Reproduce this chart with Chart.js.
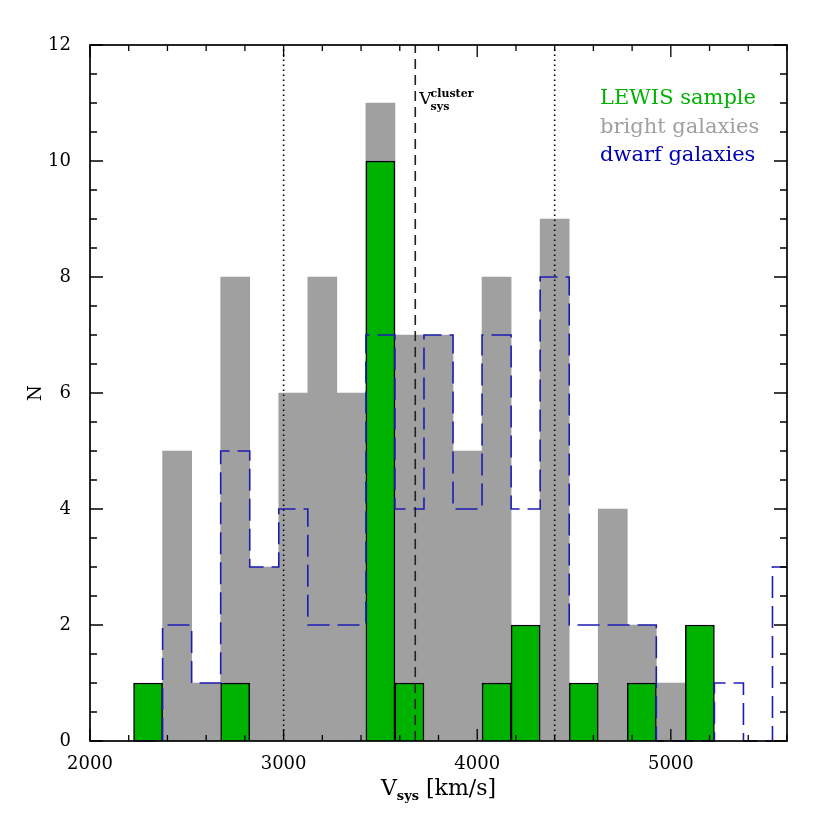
<!DOCTYPE html>
<html>
<head>
<meta charset="utf-8">
<script src="https://cdn.jsdelivr.net/npm/chart.js@4.4.0/dist/chart.umd.min.js"></script>
<style>
  html, body { margin: 0; padding: 0; background: #fff; }
  #wrap { width: 830px; height: 830px; }
</style>
</head>
<body>
<div id="wrap"><canvas id="histChart" width="830" height="830"></canvas></div>
<script>
// bin edges of the velocity histogram (km/s)
const binEdges = [2225, 2375, 2525, 2675, 2825, 2975, 3125, 3275, 3425, 3575, 3725, 3875,
                  4025, 4175, 4325, 4475, 4625, 4775, 4925, 5075, 5225, 5375, 5525, 5675];
// galaxy counts per bin
const lewisCounts  = [1, 0, 0, 1, 0, 0, 0, 0, 10, 1, 0, 0, 1, 2, 0, 1, 0, 1, 0, 2, 0, 0, 0];
const brightCounts = [0, 5, 1, 8, 3, 6, 8, 6, 11, 7, 7, 5, 8, 0, 9, 0, 4, 2, 1, 0, 0, 0, 0];
const dwarfCounts  = [0, 2, 1, 5, 3, 4, 2, 2, 7, 4, 7, 4, 7, 4, 8, 2, 2, 2, 0, 0, 1, 0, 3];
const seriesLabels = ["LEWIS sample", "bright galaxies", "dwarf galaxies"];

// reference velocities
const vCluster = 3680;
const vLimits = [3000, 4400];

// axes
const xRange = [2000, 5600];
const yRange = [0, 12];

const GREEN = "#00b200";
const GREY = "#a0a0a0";
const BLUE = "#1c1cb4";

const binCenters = binEdges.slice(0, -1).map((e, i) => (e + binEdges[i + 1]) / 2);
const toBars = counts => binCenters.map((c, i) => ({ x: c, y: counts[i] ? counts[i] : null }));
const dwarfSteps = binEdges.map((e, i) => ({ x: e, y: dwarfCounts[Math.min(i, dwarfCounts.length - 1)] }));
const vline = v => [{ x: v, y: yRange[0] }, { x: v, y: yRange[1] }];

// box, inward ticks on all sides, titles and text legend
const framePlugin = {
  id: "frame",
  afterDatasetsDraw(chart) {
    const { ctx, chartArea: a, scales: { x, y } } = chart;
    ctx.save();
    ctx.strokeStyle = "#000";
    ctx.lineWidth = 1.3;
    ctx.beginPath();
    x.ticks.forEach(t => {
      const px = x.getPixelForValue(t.value);
      const len = t.value % 1000 === 0 ? 12 : 6;
      ctx.moveTo(px, a.bottom); ctx.lineTo(px, a.bottom - len);
      ctx.moveTo(px, a.top); ctx.lineTo(px, a.top + len);
    });
    y.ticks.forEach(t => {
      const py = y.getPixelForValue(t.value);
      const len = t.value % 2 === 0 ? 13 : 7;
      ctx.moveTo(a.left, py); ctx.lineTo(a.left + len, py);
      ctx.moveTo(a.right, py); ctx.lineTo(a.right - len, py);
    });
    ctx.stroke();
    ctx.lineWidth = 1.7;
    ctx.strokeRect(a.left, a.top, a.right - a.left, a.bottom - a.top);

    ctx.fillStyle = "#000";
    // y title
    ctx.save();
    ctx.translate(36, (a.top + a.bottom) / 2);
    ctx.rotate(-Math.PI / 2);
    ctx.textAlign = "center";
    ctx.textBaseline = "middle";
    ctx.font = "18px 'DejaVu Serif'";
    ctx.fillText("N", 0, 0);
    ctx.restore();

    // x title: V_sys [km/s]
    ctx.textBaseline = "alphabetic";
    ctx.textAlign = "left";
    const big = "22px 'DejaVu Serif'", small = "bold 13px 'DejaVu Serif'";
    ctx.font = big; const wV = ctx.measureText("V").width;
    const wU = ctx.measureText(" [km/s]").width;
    ctx.font = small; const wS = ctx.measureText("sys").width;
    let tx = (a.left + a.right) / 2 - (wV + wS + wU) / 2;
    const ty = 795;
    ctx.font = big; ctx.fillText("V", tx, ty); tx += wV;
    ctx.font = small; ctx.fillText("sys", tx, ty + 5); tx += wS;
    ctx.font = big; ctx.fillText(" [km/s]", tx, ty);

    // cluster velocity label
    const cx = x.getPixelForValue(vCluster) + 4;
    ctx.font = "17px 'DejaVu Serif'";
    ctx.fillText("V", cx, 104);
    const wc = ctx.measureText("V").width;
    ctx.font = "bold 11px 'DejaVu Serif'";
    ctx.fillText("cluster", cx + wc - 1, 97);
    ctx.fillText("sys", cx + wc - 1, 110);

    // legend as coloured text
    ctx.font = "21px 'DejaVu Serif'";
    const legendColors = [GREEN, GREY, "#0000b0"];
    seriesLabels.forEach((s, i) => {
      ctx.fillStyle = legendColors[i];
      ctx.fillText(s, 600, 104 + i * 28.5);
    });
    ctx.restore();
  }
};

const config = {
  type: "bar",
  data: {
    datasets: [
      {
        type: "line", data: vline(vLimits[0]), borderColor: "#000", borderWidth: 1.6,
        borderDash: [1.6, 3.4], pointRadius: 0, order: 0
      },
      {
        type: "line", data: vline(vLimits[1]), borderColor: "#000", borderWidth: 1.6,
        borderDash: [1.6, 3.4], pointRadius: 0, order: 0
      },
      {
        type: "line", data: vline(vCluster), borderColor: "#222", borderWidth: 1.6,
        borderDash: [10, 6], pointRadius: 0, order: 0
      },
      {
        type: "line", label: seriesLabels[2], data: dwarfSteps, stepped: "before",
        borderColor: BLUE, borderWidth: 1.6, borderDash: [22, 8], pointRadius: 0,
        clip: { left: 0, right: 0, top: 0, bottom: 2 }, order: 1
      },
      {
        label: seriesLabels[0], data: toBars(lewisCounts), backgroundColor: GREEN,
        borderColor: "#000", borderWidth: { top: 1.5, left: 1.5, right: 1.5, bottom: 0 },
        borderSkipped: false, grouped: false, barPercentage: 1, categoryPercentage: 1, order: 2
      },
      {
        label: seriesLabels[1], data: toBars(brightCounts), backgroundColor: GREY,
        borderWidth: 0, grouped: false, barPercentage: 1, categoryPercentage: 1, order: 3
      }
    ]
  },
  options: {
    responsive: false,
    animation: false,
    events: [],
    layout: { padding: { top: 45, right: 43, left: 0, bottom: 0 } },
    plugins: { legend: { display: false }, tooltip: { enabled: false } },
    scales: {
      x: {
        type: "linear", min: xRange[0], max: xRange[1], offset: false,
        grid: { display: false }, border: { display: false },
        ticks: {
          stepSize: 200, autoSkip: false, maxRotation: 0, padding: 5, color: "#000",
          font: { family: "DejaVu Serif", size: 18 },
          callback: v => (v % 1000 === 0 ? String(v) : "")
        },
        afterFit: s => { s.height = 89; }
      },
      y: {
        min: yRange[0], max: yRange[1],
        grid: { display: false }, border: { display: false },
        ticks: {
          stepSize: 0.5, autoSkip: false, padding: 11, color: "#000",
          font: { family: "DejaVu Serif", size: 18 },
          callback: v => (v % 2 === 0 ? String(v) : "")
        },
        afterFit: s => { s.width = 90; }
      }
    }
  },
  plugins: [framePlugin]
};

const histChart = new Chart(document.getElementById("histChart"), config);
</script>
</body>
</html>
